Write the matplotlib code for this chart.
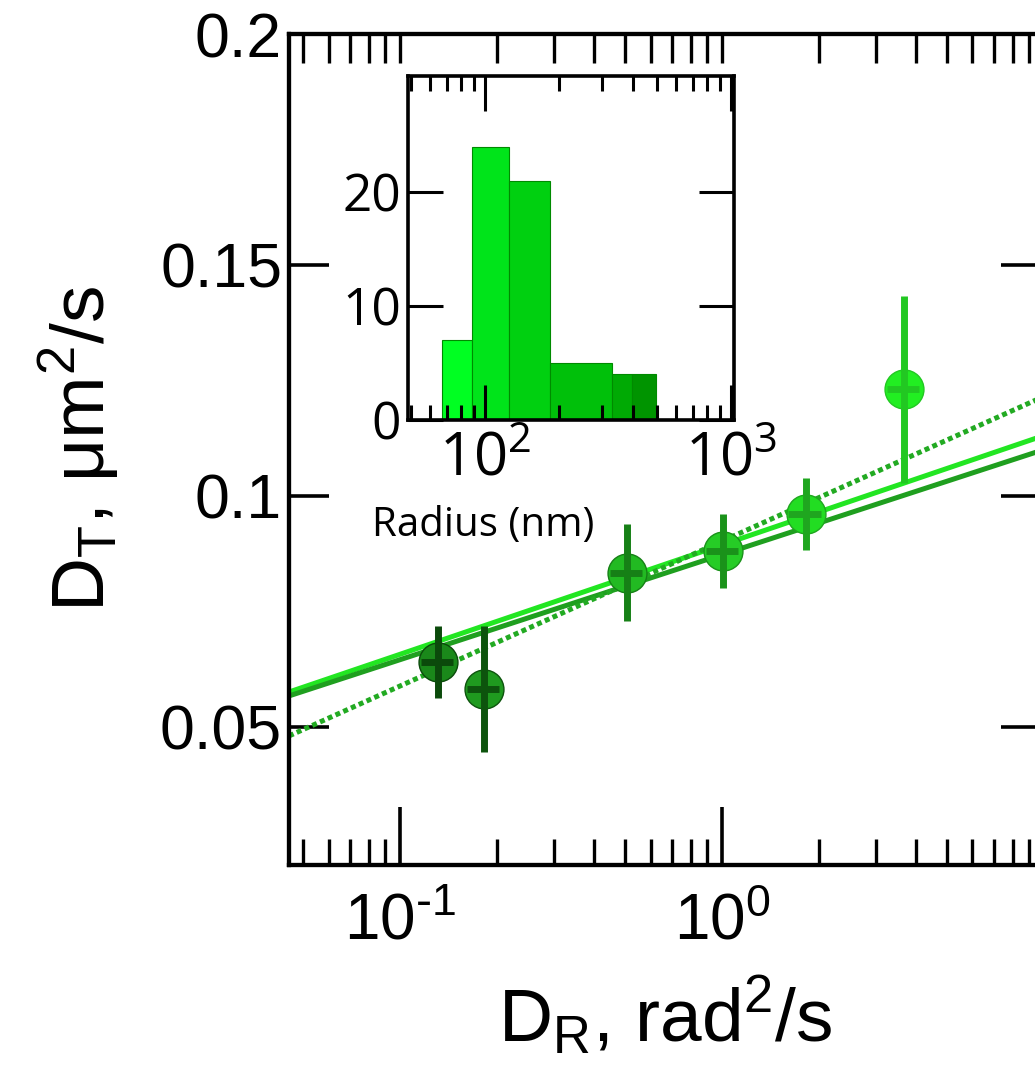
import numpy as np
import matplotlib
matplotlib.use("Agg")
import matplotlib.pyplot as plt
from matplotlib.ticker import LogLocator, LogFormatterMathtext, NullFormatter, NullLocator, FuncFormatter

plt.rcParams['font.family'] = ['Liberation Sans', 'DejaVu Sans']

# main data: D_R (rad^2/s) vs D_T (um^2/s)
dr = [0.131, 0.182, 0.507, 1.01, 1.82, 3.67]
dr_err = [0.015, 0.021, 0.058, 0.115, 0.21, 0.42]
dt = [0.064, 0.0581, 0.0833, 0.0881, 0.0961, 0.123]
dt_err = [0.0078, 0.0137, 0.0105, 0.0080, 0.0078, 0.0203]
face_colors = ['#1a881a', '#1f9a1f', '#22ba22', '#26cc26', '#22dd22', '#22ee22']
bar_colors = ['#0b4a0b', '#0d540d', '#168016', '#1a921a', '#1fa61f', '#22c822']

# fits: D_T = a + b*log10(D_R)
fit_a = [0.08933, 0.08722, 0.09013]
fit_b = [0.02369, 0.02275, 0.03136]
fit_colors = ['#22e622', '#1f9f1f', '#22aa22']
fit_styles = ['-', '-', (0, (1.0, 0.7))]

# inset histogram of radius (nm)
bin_edges = [67, 89, 125, 184, 328, 396, 495]
counts = [7, 24, 21, 5, 4, 4]
bin_colors = ['#00ff22', '#00e41a', '#00d010', '#00c00a', '#00aa04', '#009400']


def sci_label(v, pos):
    e = int(round(np.log10(v)))
    s = str(e).replace('-', r'\text{-}')
    return r'$\mathregular{10^{%s}}$' % s


fig = plt.figure(figsize=(10.35, 10.87), dpi=100)
W, H = 1035, 1087
ax = fig.add_axes([289 / W, 1 - 865 / H, 752 / W, 831 / H])

xlim = (0.0452, 9.8)
xs = np.logspace(np.log10(xlim[0]), np.log10(xlim[1]), 50)
for a, b, c, ls in zip(fit_a, fit_b, fit_colors, fit_styles):
    ax.plot(xs, a + b * np.log10(xs), color=c, lw=3.6, ls=ls,
            solid_capstyle='butt', dash_capstyle='butt', zorder=2)

for i in range(len(dr)):
    ax.errorbar(dr[i], dt[i], yerr=dt_err[i], xerr=dr_err[i], fmt='o',
                ms=28, mfc=face_colors[i], mec=bar_colors[i], mew=1,
                ecolor=bar_colors[i], elinewidth=5, capsize=0,
                barsabove=True, zorder=3)

ax.set_xscale('log')
ax.set_xlim(*xlim)
ax.set_ylim(0.02, 0.2)
ax.set_yticks([0.05, 0.1, 0.15, 0.2], ['0.05', '0.1', '0.15', '0.2'])
ax.yaxis.set_minor_locator(NullLocator())
ax.xaxis.set_major_locator(LogLocator(base=10))
ax.xaxis.set_minor_locator(LogLocator(base=10, subs=np.arange(2, 10)))
ax.xaxis.set_major_formatter(FuncFormatter(sci_label))
ax.xaxis.set_minor_formatter(NullFormatter())

for s in ax.spines.values():
    s.set_linewidth(3)
ax.tick_params(axis='x', which='major', direction='in', length=42, width=2.6,
               labelsize=46, pad=20, top=False)
ax.tick_params(axis='x', which='minor', direction='in', length=19, width=2.4, top=False)
ax.tick_params(axis='y', which='major', direction='in', length=29, width=2.6,
               labelsize=45, pad=5, right=True)

# top ticks, all short
axt = ax.twiny()
axt.set_xscale('log')
axt.set_xlim(*xlim)
axt.xaxis.set_major_locator(LogLocator(base=10))
axt.xaxis.set_minor_locator(LogLocator(base=10, subs=np.arange(2, 10)))
axt.xaxis.set_major_formatter(NullFormatter())
axt.xaxis.set_minor_formatter(NullFormatter())
axt.tick_params(axis='x', which='both', direction='in', length=21, width=2.4)
for s in axt.spines.values():
    s.set_linewidth(3)

ax.set_xlabel(r'D$_\mathregular{R}$, rad$^\mathregular{2}$/s', fontsize=54)
ax.xaxis.set_label_coords(0.5, -0.13)
ax.set_ylabel(r'D$_\mathregular{T}$, μm$^\mathregular{2}$/s', fontsize=54)
ax.yaxis.set_label_coords(-0.222, 0.5)

# inset
axi = fig.add_axes([408 / W, 1 - 420 / H, 326 / W, 344 / H])
lefts = bin_edges[:-1]
widths = np.diff(bin_edges)
axi.bar(lefts, counts, width=widths, align='edge', color=bin_colors,
        edgecolor='#008a00', linewidth=0.8)
axi.set_xscale('log')
axi.set_xlim(48.7, 1028)
axi.set_ylim(0, 30.2)
axi.set_yticks([0, 10, 20])
axi.xaxis.set_major_locator(LogLocator(base=10))
axi.xaxis.set_minor_locator(LogLocator(base=10, subs=np.arange(2, 10)))
axi.xaxis.set_major_formatter(LogFormatterMathtext())
axi.xaxis.set_minor_formatter(NullFormatter())
for s in axi.spines.values():
    s.set_linewidth(2.6)
axi.tick_params(axis='both', which='major', direction='in', width=2.2,
                top=True, right=True, labelfontfamily='Open Sans')
axi.tick_params(axis='x', which='major', length=25, pad=7, labelsize=43)
axi.tick_params(axis='y', which='major', length=25, pad=5, labelsize=37)
axi.tick_params(axis='x', which='minor', direction='in', length=11, width=2.2, top=True)
axi.set_xlabel('Radius (nm)', fontsize=29, family='Open Sans')
axi.xaxis.set_label_coords(0.23, -0.25)

fig.savefig('out.png', dpi=100)
